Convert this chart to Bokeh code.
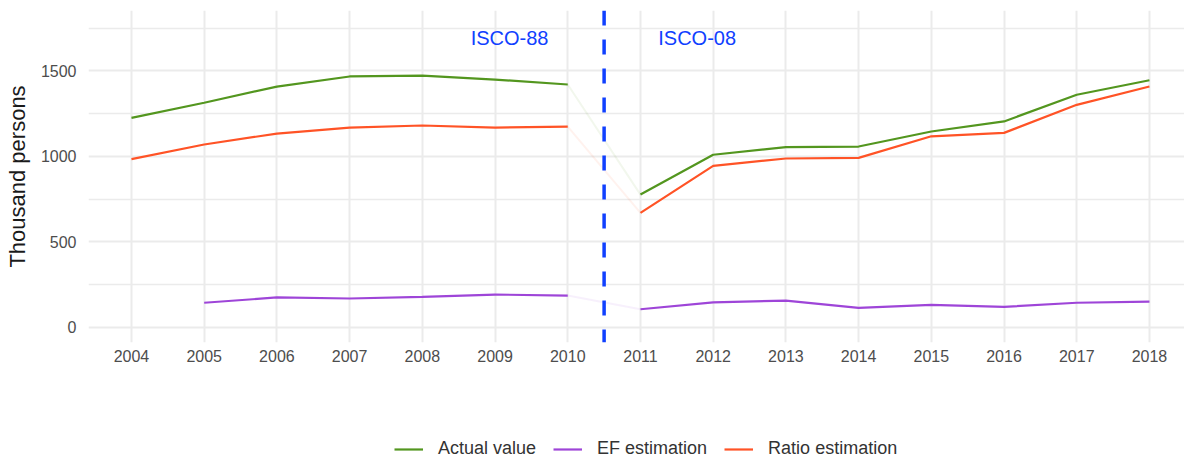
from bokeh.plotting import figure
from bokeh.layouts import column
from bokeh.models import Legend, LegendItem, Range1d, FixedTicker, Span, Label
from bokeh.embed import file_html
from bokeh.resources import INLINE

years_a = [2004, 2005, 2006, 2007, 2008, 2009, 2010]
years_b = [2011, 2012, 2013, 2014, 2015, 2016, 2017, 2018]

actual_a = [1225, 1313, 1408, 1467, 1472, 1449, 1420]
actual_b = [776, 1009, 1054, 1057, 1145, 1204, 1360, 1445]
ratio_a = [983, 1069, 1133, 1168, 1180, 1168, 1174]
ratio_b = [669, 944, 987, 991, 1117, 1137, 1301, 1408]
ef_years_a = [2005, 2006, 2007, 2008, 2009, 2010]
ef_a = [143, 174, 168, 177, 191, 185]
ef_b = [105, 145, 156, 113, 131, 119, 143, 150]

x_ticks = list(range(2004, 2019))
y_ticks = [0, 500, 1000, 1500]
y_minor = [250, 750, 1250, 1750]
break_year = 2010.5
series_names = ["Actual value", "EF estimation", "Ratio estimation"]

GREEN = "#53961f"
PURPLE = "#9E45D8"
ORANGE = "#FF5326"
BLUE = "#1040FF"
FONT = "Liberation Sans"

p = figure(width=1184, height=400, output_backend="svg", toolbar_location=None,
           x_range=Range1d(2003.409, 2018.482), y_range=Range1d(-89.5, 1853),
           min_border_left=88, min_border_right=0, min_border_top=10, min_border_bottom=58)
p.outline_line_color = None
p.background_fill_color = "white"
p.border_fill_color = "white"

p.xaxis.ticker = FixedTicker(ticks=x_ticks)
p.yaxis.ticker = FixedTicker(ticks=y_ticks, minor_ticks=y_minor)
for ax in (p.xaxis, p.yaxis):
    ax.axis_line_color = None
    ax.major_tick_line_color = None
    ax.minor_tick_line_color = None
    ax.major_tick_out = 0
    ax.major_tick_in = 0
    ax.minor_tick_out = 0
    ax.major_label_text_font = FONT
    ax.major_label_text_font_size = "16px"
    ax.major_label_text_color = "#4d4d4d"
p.xaxis.major_label_standoff = 7
p.yaxis.major_label_standoff = 12
p.yaxis.axis_label = "Thousand persons"
p.yaxis.axis_label_text_font = FONT
p.yaxis.axis_label_text_font_size = "22px"
p.yaxis.axis_label_text_font_style = "normal"
p.yaxis.axis_label_text_color = "#1a1a1a"
p.yaxis.axis_label_standoff = 8

p.xgrid.grid_line_color = "#ebebeb"
p.xgrid.grid_line_width = 2
p.ygrid.grid_line_color = "#ebebeb"
p.ygrid.grid_line_width = 2
p.ygrid.minor_grid_line_color = "#ebebeb"
p.ygrid.minor_grid_line_width = 1.5

# faint connectors across classification break
p.line([years_a[-1], years_b[0]], [actual_a[-1], actual_b[0]], color=GREEN, line_width=2, alpha=0.08)
p.line([years_a[-1], years_b[0]], [ratio_a[-1], ratio_b[0]], color=ORANGE, line_width=2, alpha=0.08)
p.line([ef_years_a[-1], years_b[0]], [ef_a[-1], ef_b[0]], color=PURPLE, line_width=2, alpha=0.08)

p.line(years_a, actual_a, color=GREEN, line_width=2.2)
p.line(years_b, actual_b, color=GREEN, line_width=2.2)
p.line(ef_years_a, ef_a, color=PURPLE, line_width=2.2)
p.line(years_b, ef_b, color=PURPLE, line_width=2.2)
p.line(years_a, ratio_a, color=ORANGE, line_width=2.2)
p.line(years_b, ratio_b, color=ORANGE, line_width=2.2)

p.add_layout(Span(location=break_year, dimension="height", line_color=BLUE,
                  line_width=3.5, line_dash="15 14"))

for txt, xx in (("ISCO-88", 2009.20), ("ISCO-08", 2011.78)):
    p.add_layout(Label(x=xx, y=1695, text=txt, text_align="center", text_baseline="middle",
                       text_color=BLUE, text_font=FONT, text_font_size="20px"))

# legend strip (frame aligned with the main plot's frame)
q = figure(width=1184, height=59, output_backend="svg", toolbar_location=None,
           x_range=Range1d(0, 1), y_range=Range1d(0, 1),
           min_border_left=88, min_border_right=0, min_border_top=0, min_border_bottom=0)
q.axis.visible = False
q.grid.visible = False
q.outline_line_color = None
q.border_fill_color = "white"
items = []
for name, col in zip(series_names, (GREEN, PURPLE, ORANGE)):
    r = q.line([-5, -4], [-5, -4], color=col, line_width=2.2)
    items.append(LegendItem(label=name, renderers=[r]))
legend = Legend(items=items, orientation="horizontal", location=(306, 0),
                glyph_width=29, glyph_height=20, label_standoff=15, spacing=17,
                padding=0, margin=0, border_line_color=None, background_fill_alpha=0,
                label_text_font=FONT, label_text_font_size="18px", label_text_color="#333333",
                label_height=20)
q.add_layout(legend, "center")

layout = column(p, q, spacing=0)
open("out.html", "w").write(file_html(layout, INLINE))
